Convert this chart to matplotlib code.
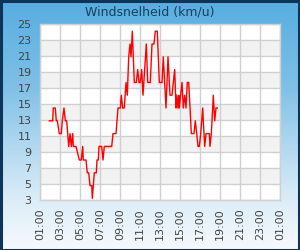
import numpy as np
import matplotlib
matplotlib.use("Agg")
import matplotlib.pyplot as plt
from matplotlib.colors import LinearSegmentedColormap

# wind speed (km/u), time as decimal hours
hours = [1.93, 2.27, 2.33, 2.53, 2.63, 2.73, 2.93, 3.13, 3.23, 3.40, 3.53, 3.67,
         3.87, 4.00, 4.13, 4.27, 4.33, 4.60, 4.93, 5.13, 5.27, 5.33, 5.60, 5.73,
         5.87, 6.00, 6.17, 6.23, 6.43, 6.63, 6.70, 6.83, 6.90, 7.17, 7.30, 7.43,
         8.17, 8.30, 8.60, 8.70, 8.80, 9.03, 9.13, 9.27, 9.43, 9.60, 9.73, 9.87,
         10.00, 10.10, 10.23, 10.43, 10.63, 10.77, 10.90, 11.03, 11.17, 11.30, 11.63, 11.77,
         12.03, 12.20, 12.40, 12.53, 12.73, 12.93, 13.20, 13.33, 13.60, 13.80, 14.00, 14.20,
         14.33, 14.47, 14.60, 14.67, 14.80, 14.87, 14.93, 15.20, 15.33, 15.47, 15.60, 15.73,
         15.87, 16.07, 16.13, 16.40, 16.53, 16.67, 16.80, 16.93, 17.07, 17.27, 17.33, 17.47,
         17.60, 17.93, 18.00, 18.13, 18.20, 18.33, 18.47, 18.60, 18.73]
speed = [12.9, 12.9, 14.5, 14.5, 12.9, 12.9, 11.3, 11.3, 12.9, 14.5, 12.9, 12.9,
         9.7, 11.3, 9.7, 11.3, 9.7, 9.7, 8.0, 8.0, 9.7, 8.0, 8.0, 6.4,
         6.4, 4.8, 4.8, 3.2, 6.4, 6.4, 8.0, 8.0, 9.7, 9.7, 8.0, 9.7,
         9.7, 11.3, 11.3, 12.9, 14.5, 14.5, 16.1, 14.5, 14.5, 17.7, 16.1, 20.9,
         22.5, 20.9, 24.1, 17.7, 17.7, 19.3, 17.7, 17.7, 19.3, 16.1, 22.5, 17.7,
         17.7, 22.5, 22.5, 24.1, 24.1, 17.7, 17.7, 20.9, 14.5, 20.9, 16.1, 16.1,
         17.7, 19.3, 14.5, 16.1, 14.5, 16.1, 14.5, 17.7, 14.5, 16.1, 14.5, 17.7,
         17.7, 12.9, 11.3, 11.3, 12.9, 11.3, 9.7, 9.7, 11.3, 14.5, 12.9, 9.7,
         11.3, 11.3, 9.7, 11.3, 12.9, 16.1, 12.9, 14.5, 14.5]

xticks = list(range(1, 26, 2))
xlabels = ["%02d:00" % (h % 24) for h in xticks]
yticks = list(range(3, 26, 2))

fig = plt.figure(figsize=(3.0, 2.5), dpi=100)

# background gradient: blue at the top fading to near white at the bottom
cmap = LinearSegmentedColormap.from_list(
    "bg", [(0.0, "#56ade0"), (0.35, "#7fc0e6"), (0.55, "#a9d4ee"),
           (0.8, "#dbecf7"), (1.0, "#f6f9fc")])
nstrip = 125
for i in range(nstrip):
    y0 = 1 - (i + 1) / nstrip          # strip i counted from the top
    fig.patches.append(plt.Rectangle((0, y0), 1, 1.0 / nstrip + 0.002,
                                     transform=fig.transFigure,
                                     facecolor=cmap(i / (nstrip - 1)),
                                     edgecolor="none", zorder=-10))
fig.patches.append(plt.Rectangle((0.002, 0.002), 0.996, 0.996, transform=fig.transFigure,
                                 fill=False, edgecolor="#0c3559", linewidth=2.2))

fig.text(0.5, 0.952, "Windsnelheid (km/u)", ha="center", va="center",
         fontsize=9, color="#1d3d5c")

ax = fig.add_axes([40 / 300, 50 / 250, 240 / 300, 176 / 250])
ax.set_facecolor("white")
for lo in range(5, 25, 4):
    ax.axhspan(lo, lo + 2, color="#f2f2f2", zorder=0, lw=0)
ax.plot(hours, speed, color="#ff0000", linewidth=1.0, zorder=3)

ax.set_xlim(1, 25)
ax.set_ylim(3, 25)
ax.set_xticks(xticks)
ax.set_xticklabels(xlabels, rotation=90)
ax.set_yticks(yticks)
ax.grid(True, color="#d0d0d0", linewidth=1.0, zorder=1)
ax.set_axisbelow(True)
for s in ax.spines.values():
    s.set_color("#d0d0d0")
    s.set_linewidth(1.0)
ax.tick_params(length=0, labelsize=8, labelcolor="#444444", pad=6)

fig.savefig("out.png", dpi=100)
